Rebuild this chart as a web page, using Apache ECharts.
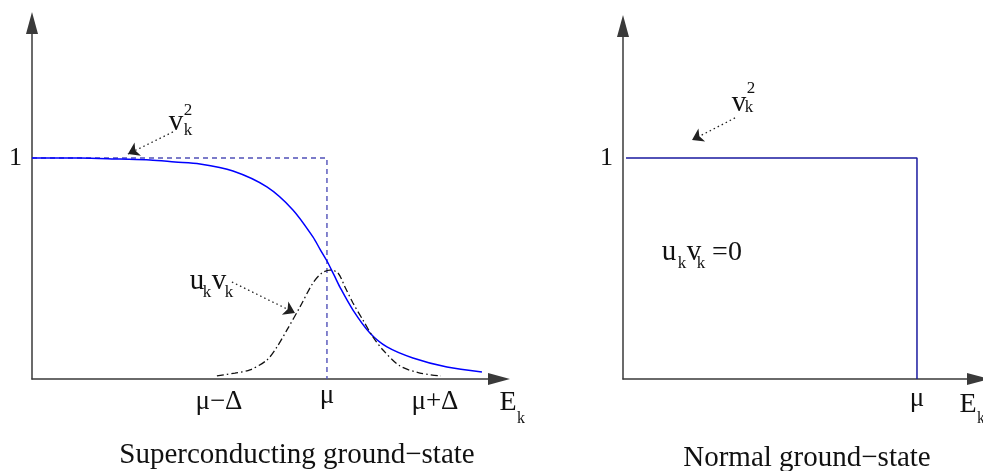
<!DOCTYPE html>
<html>
<head>
<meta charset="utf-8">
<script src="https://cdn.jsdelivr.net/npm/echarts@6/dist/echarts.min.js"></script>
<style>
html,body{margin:0;padding:0;background:#fff;}
#chart{width:983px;height:471px;}
</style>
</head>
<body>
<div id="chart"></div>
<script>
// ---- data (x in units of Δ measured from μ; y in units of occupation) ----
const vk2X = [-2.731, -2.287, -1.917, -1.639, -1.407, -1.176, -0.870, -0.556, -0.315, -0.130, -0.065, 0.000, 0.065, 0.120, 0.241, 0.398, 0.556, 0.796, 1.111, 1.435];
const vk2Y = [1.000, 1.000, 0.995, 0.991, 0.982, 0.973, 0.941, 0.869, 0.765, 0.643, 0.588, 0.534, 0.471, 0.416, 0.312, 0.208, 0.145, 0.095, 0.054, 0.032];
const ukvkX = [-1.019, -0.852, -0.713, -0.556, -0.463, -0.370, -0.250, -0.130, -0.046, 0.028, 0.102, 0.167, 0.241, 0.333, 0.426, 0.519, 0.676, 0.861, 1.056];
const ukvkY = [0.014, 0.027, 0.041, 0.086, 0.145, 0.222, 0.326, 0.434, 0.480, 0.493, 0.480, 0.416, 0.344, 0.267, 0.190, 0.131, 0.059, 0.027, 0.014];
const stepScX = [-2.731, 0, 0];
const stepScY = [1, 1, 0];
const stepNormX = [-2.694, 0, 0];
const stepNormY = [1, 1, 0];
const xTickValuesSc = [-1, 0, 1];
const xTickLabelsSc = ['μ−Δ', 'μ', 'μ+Δ'];
const xTickValuesNorm = [0];
const xTickLabelsNorm = ['μ'];
const yTickValues = [1];
const yTickLabels = ['1'];
// annotation arrows: [fromX, fromY, toX, toY]
const arrowVk2Sc = [-1.426, 1.118, -1.843, 1.018];
const arrowUkvkSc = [-0.880, 0.439, -0.296, 0.299];
const arrowVk2Norm = [-1.685, 1.181, -2.083, 1.081];

const zip = (xs, ys) => xs.map((x, i) => [x, ys[i]]);
const SERIF = '"Liberation Serif", "DejaVu Serif", serif';

function xAxisCfg(grid, min, max, vals, labels, muLH) {
  return {
    gridIndex: grid, type: 'value', min: min, max: max,
    splitLine: {show: false}, axisTick: {show: false},
    axisLine: {onZero: false, symbol: ['none', 'triangle'], symbolSize: [12, 22],
      lineStyle: {color: '#3a3a3a', width: 1.5}},
    axisLabel: {customValues: vals, margin: 9, fontFamily: SERIF, fontSize: 27, color: '#111',
      rich: {m: {fontFamily: SERIF, fontSize: 27, color: '#111', lineHeight: muLH}},
      formatter: v => {
        const i = vals.findIndex(t => Math.abs(t - v) < 1e-9);
        if (i < 0) return '';
        return labels[i] === 'μ' ? '{m|μ}' : labels[i];
      }}
  };
}
function yAxisCfg(grid, max) {
  return {
    gridIndex: grid, type: 'value', min: 0, max: max,
    splitLine: {show: false}, axisTick: {show: false},
    axisLine: {onZero: false, symbol: ['none', 'triangle'], symbolSize: [12, 22],
      lineStyle: {color: '#3a3a3a', width: 1.5}},
    axisLabel: {customValues: yTickValues, margin: 10, fontFamily: SERIF, fontSize: 26, color: '#111',
      formatter: v => { const i = yTickValues.findIndex(t => Math.abs(t - v) < 1e-9); return i >= 0 ? yTickLabels[i] : ''; }}
  };
}
function arrowSeries(xi, a) {
  return {
    type: 'lines', coordinateSystem: 'cartesian2d', xAxisIndex: xi, yAxisIndex: xi,
    symbol: ['none', 'arrow'], symbolSize: 11, silent: true,
    lineStyle: {color: '#222', width: 1.3, type: [1.5, 3], opacity: 1},
    data: [{coords: [[a[0], a[1]], [a[2], a[3]]]}]
  };
}
function txt(x, y, s, size, align) {
  return {type: 'text', x: x, y: y, silent: true,
    style: {text: s, fontFamily: SERIF, fontSize: size, fill: '#111',
      textAlign: align || 'center', textVerticalAlign: 'middle'}};
}

const chart = echarts.init(document.getElementById('chart'), null, {renderer: 'canvas'});
chart.setOption({
  animation: false,
  grid: [
    {left: 32, top: 23, width: 467, height: 356},
    {left: 623, top: 26, width: 355, height: 353}
  ],
  xAxis: [
    xAxisCfg(0, -2.731, 1.593, xTickValuesSc, xTickLabelsSc, 15),
    xAxisCfg(1, -2.722, 0.565, xTickValuesNorm, xTickLabelsNorm, 21)
  ],
  yAxis: [yAxisCfg(0, 1.611), yAxisCfg(1, 1.597)],
  series: [
    {type: 'line', xAxisIndex: 0, yAxisIndex: 0, data: zip(stepScX, stepScY), showSymbol: false, symbol: 'none',
      lineStyle: {color: '#5050b8', width: 1.4, type: [5, 4]}, z: 2},
    {type: 'line', xAxisIndex: 0, yAxisIndex: 0, data: zip(vk2X, vk2Y), showSymbol: false, symbol: 'none', smooth: 0.3,
      lineStyle: {color: '#0000ff', width: 1.5}, z: 3},
    {type: 'line', xAxisIndex: 0, yAxisIndex: 0, data: zip(ukvkX, ukvkY), showSymbol: false, symbol: 'none', smooth: 0.3,
      lineStyle: {color: '#111', width: 1.3, type: [7, 3, 1.5, 3]}, z: 3},
    {type: 'line', xAxisIndex: 1, yAxisIndex: 1, data: zip(stepNormX, stepNormY), showSymbol: false, symbol: 'none',
      lineStyle: {color: '#1a1aa0', width: 1.5}, z: 3},
    arrowSeries(0, arrowVk2Sc),
    arrowSeries(0, arrowUkvkSc),
    arrowSeries(1, arrowVk2Norm)
  ],
  graphic: [
    // left panel labels
    txt(176, 122, 'v', 29), txt(188, 111, '2', 17), txt(188, 131, 'k', 17),
    txt(197, 281, 'u', 29), txt(207, 293, 'k', 17), txt(219, 281, 'v', 29), txt(229, 293, 'k', 17),
    txt(508, 403, 'E', 28), txt(521, 419, 'k', 16),
    txt(297, 455, 'Superconducting ground−state', 29),
    // right panel labels
    txt(739, 103, 'v', 29), txt(751, 89, '2', 17), txt(749, 108, 'k', 17),
    txt(669, 252, 'u', 29), txt(682, 264, 'k', 17), txt(694, 252, 'v', 29), txt(701, 264, 'k', 17),
    txt(727, 253, '=0', 28),
    txt(968, 405, 'E', 28), txt(981, 419, 'k', 16),
    txt(807, 458, 'Normal ground−state', 29)
  ]
});
</script>
</body>
</html>
